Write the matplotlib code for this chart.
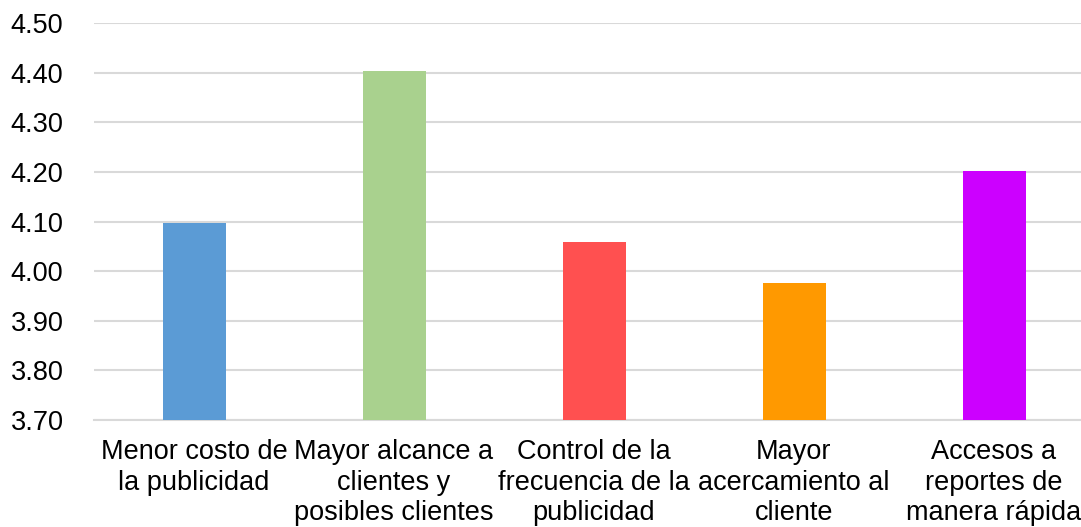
import numpy as np
import matplotlib.pyplot as plt

categories = ["Menor costo de\nla publicidad",
              "Mayor alcance a\nclientes y\nposibles clientes",
              "Control de la\nfrecuencia de la\npublicidad",
              "Mayor\nacercamiento al\ncliente",
              "Accesos a\nreportes de\nmanera rápida"]
values = [4.097, 4.404, 4.058, 3.976, 4.202]
colors = ["#5B9BD5", "#A9D18E", "#FF5050", "#FF9900", "#CC00FF"]
yticks = np.arange(3.70, 4.501, 0.10)

plt.rcParams['font.family'] = ['Liberation Sans', 'DejaVu Sans']

fig = plt.figure(figsize=(10.81, 5.27), dpi=100)
ax = fig.add_axes([94 / 1081, 107 / 527, 1000 / 1081, 397 / 527])

x = np.arange(len(categories))
ax.bar(x, values, width=0.315, color=colors, zorder=3)

ax.set_xlim(-0.5, len(categories) - 0.5)
ax.set_ylim(3.70, 4.50)
ax.set_yticks(yticks)
ax.set_yticklabels(["%.2f" % v for v in yticks], fontsize=19.5)
ax.set_xticks(x)
ax.set_xticklabels(categories, fontsize=19.5, linespacing=1.22)

ax.tick_params(axis='y', length=0, pad=22)
ax.tick_params(axis='x', length=0, pad=14)
ax.yaxis.grid(True, color="#D9D9D9", linewidth=1.5, zorder=0)
for s in ["top", "right", "left"]:
    ax.spines[s].set_visible(False)
ax.spines["bottom"].set_color("#D9D9D9")
ax.spines["bottom"].set_linewidth(1.5)

fig.savefig("out.png", dpi=100)
